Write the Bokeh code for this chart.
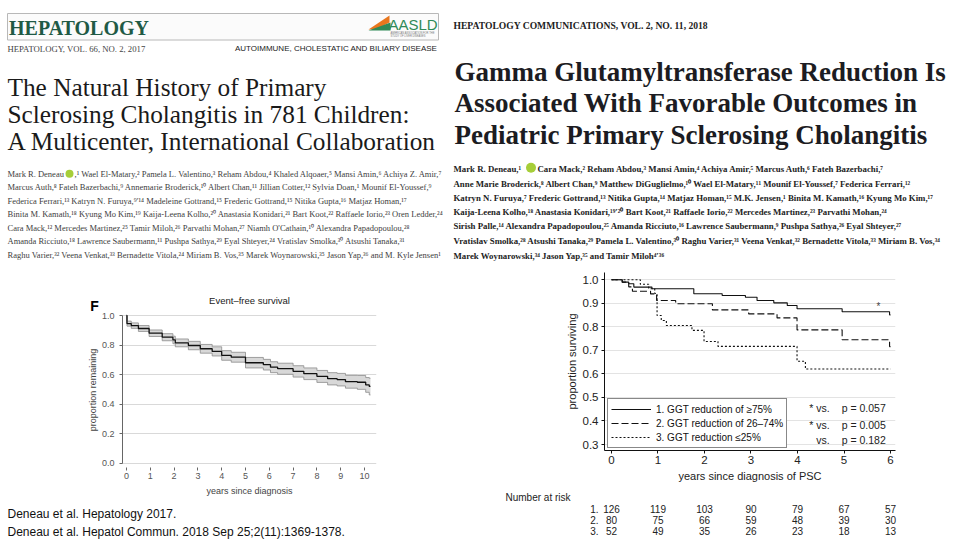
from bokeh.plotting import figure
from bokeh.models import Range1d, Legend, LegendItem, FixedTicker, NumeralTickFormatter
from bokeh.core.properties import value
from bokeh.embed import file_html
from bokeh.resources import INLINE

# ---------------- data: left panel (Hepatology 2017, event-free survival) ----------------
efs_years = [0.00, 0.02, 0.20, 0.50, 0.95, 1.50, 1.95, 2.05, 2.60, 3.10, 3.60, 4.00, 4.40,
             5.00, 5.75, 6.05, 6.35, 7.00, 7.45, 8.00, 8.45, 8.85, 9.20, 9.70, 10.05, 10.20, 10.25]
efs_surv = [1.000, 0.945, 0.932, 0.912, 0.880, 0.853, 0.835, 0.815, 0.797, 0.775, 0.757, 0.730, 0.718,
            0.680, 0.667, 0.650, 0.640, 0.622, 0.606, 0.588, 0.572, 0.566, 0.552, 0.548, 0.530, 0.520, 0.520]
efs_lower = [1.000, 0.928, 0.913, 0.892, 0.858, 0.829, 0.809, 0.788, 0.768, 0.745, 0.726, 0.697, 0.684,
             0.645, 0.631, 0.613, 0.602, 0.583, 0.566, 0.547, 0.530, 0.523, 0.508, 0.500, 0.480, 0.462, 0.462]
efs_upper = [1.000, 0.962, 0.950, 0.932, 0.902, 0.877, 0.860, 0.841, 0.825, 0.804, 0.788, 0.762, 0.751,
             0.716, 0.703, 0.687, 0.677, 0.660, 0.645, 0.628, 0.613, 0.608, 0.595, 0.594, 0.580, 0.575, 0.575]
efs_x_ticks = [0, 1, 2, 3, 4, 5, 6, 7, 8, 9, 10]
efs_y_ticks = [0.0, 0.2, 0.4, 0.6, 0.8, 1.0]

# ---------------- data: right panel (Hepatol Commun 2018, GGT reduction groups) ----------------
ggt_labels = ["1. GGT reduction of \u226575%", "2. GGT reduction of 26\u201374%", "3. GGT reduction \u226425%"]
ggt1_years = [0, 0.23, 0.37, 0.48, 0.87, 1.77, 2.38, 2.88, 3.13, 3.49, 3.78, 3.99, 4.96, 5.98, 6.00]
ggt1_surv = [1.0, 0.990, 0.983, 0.969, 0.962, 0.941, 0.933, 0.926, 0.912, 0.902, 0.891, 0.877, 0.864, 0.851, 0.851]
ggt2_years = [0, 0.23, 0.37, 0.45, 0.84, 0.97, 1.38, 2.17, 2.95, 3.56, 3.99, 4.96, 5.98, 6.00]
ggt2_surv = [1.0, 0.990, 0.970, 0.951, 0.940, 0.912, 0.898, 0.872, 0.855, 0.838, 0.787, 0.745, 0.716, 0.716]
ggt3_years = [0, 0.62, 0.80, 0.93, 0.98, 1.07, 1.18, 1.73, 1.99, 2.29, 3.99, 4.17, 6.00]
ggt3_surv = [1.0, 0.981, 0.962, 0.942, 0.848, 0.827, 0.806, 0.785, 0.738, 0.717, 0.654, 0.621, 0.621]
ggt_x_ticks = [0, 1, 2, 3, 4, 5, 6]
ggt_y_ticks = [0.3, 0.4, 0.5, 0.6, 0.7, 0.8, 0.9, 1.0]
pval_vs = ["* vs.", "* vs.", "vs."]
pval_text = ["p = 0.057", "p = 0.005", "p = 0.182"]
risk_title = "Number at risk"
risk_rows = ["1.", "2.", "3."]
risk_years = [0, 1, 2, 3, 4, 5, 6]
risk_1 = [126, 119, 103, 90, 79, 67, 57]
risk_2 = [80, 75, 66, 59, 48, 39, 30]
risk_3 = [52, 49, 35, 26, 23, 18, 13]

# ---------------- texts ----------------
left_journal = "HEPATOLOGY"
left_issue = "HEPATOLOGY, VOL. 66, NO. 2, 2017"
left_section = "AUTOIMMUNE, CHOLESTATIC AND BILIARY DISEASE"
left_title = ["The Natural History of Primary",
              "Sclerosing Cholangitis in 781 Children:",
              "A Multicenter, International Collaboration"]
left_first_author = "Mark R. Deneau"
left_authors = [
    ",\u00b9 Wael El-Matary,\u00b2 Pamela L. Valentino,\u00b3 Reham Abdou,\u2074 Khaled Alqoaer,\u2075 Mansi Amin,\u2076 Achiya Z. Amir,\u2077",
    "Marcus Auth,\u2078 Fateh Bazerbachi,\u2079 Annemarie Broderick,\u00b9\u2070 Albert Chan,\u00b9\u00b9 Jillian Cotter,\u00b9\u00b2 Sylvia Doan,\u00b9 Mounif El-Youssef,\u2079",
    "Federica Ferrari,\u00b9\u00b3 Katryn N. Furuya,\u2079\u02b9\u00b9\u2074 Madeleine Gottrand,\u00b9\u2075 Frederic Gottrand,\u00b9\u2075 Nitika Gupta,\u00b9\u2076 Matjaz Homan,\u00b9\u2077",
    "Binita M. Kamath,\u00b9\u2078 Kyung Mo Kim,\u00b9\u2079 Kaija-Leena Kolho,\u00b2\u2070 Anastasia Konidari,\u00b2\u00b9 Bart Koot,\u00b2\u00b2 Raffaele Iorio,\u00b2\u00b3 Oren Ledder,\u00b2\u2074",
    "Cara Mack,\u00b9\u00b2 Mercedes Martinez,\u00b2\u2075 Tamir Miloh,\u00b2\u2076 Parvathi Mohan,\u00b2\u2077 Niamh O'Cathain,\u00b9\u2070 Alexandra Papadopoulou,\u00b2\u2078",
    "Amanda Ricciuto,\u00b9\u2078 Lawrence Saubermann,\u00b9\u00b9 Pushpa Sathya,\u00b2\u2079 Eyal Shteyer,\u00b2\u2074 Vratislav Smolka,\u00b3\u2070 Atsushi Tanaka,\u00b3\u00b9",
    "Raghu Varier,\u00b3\u00b2 Veena Venkat,\u00b3\u00b3 Bernadette Vitola,\u00b2\u2074 Miriam B. Vos,\u00b3\u2075 Marek Woynarowski,\u00b3\u2075 Jason Yap,\u00b3\u2076 and M. Kyle Jensen\u00b9",
]
efs_title = "Event\u2013free survival"
efs_panel = "F"
right_issue = "HEPATOLOGY COMMUNICATIONS, VOL. 2, NO. 11, 2018"
right_title = ["Gamma Glutamyltransferase Reduction Is",
               "Associated With Favorable Outcomes in",
               "Pediatric Primary Sclerosing Cholangitis"]
right_first_author = "Mark R. Deneau,\u00b9"
right_authors = [
    "Cara Mack,\u00b2 Reham Abdou,\u00b3 Mansi Amin,\u2074 Achiya Amir,\u2075 Marcus Auth,\u2076 Fateh Bazerbachi,\u2077",
    "Anne Marie Broderick,\u2078 Albert Chan,\u2079 Matthew DiGuglielmo,\u00b9\u2070 Wael El-Matary,\u00b9\u00b9 Mounif El-Youssef,\u2077 Federica Ferrari,\u00b9\u00b2",
    "Katryn N. Furuya,\u2077 Frederic Gottrand,\u00b9\u00b3 Nitika Gupta,\u00b9\u2074 Matjaz Homan,\u00b9\u2075 M.K. Jensen,\u00b9 Binita M. Kamath,\u00b9\u2076 Kyung Mo Kim,\u00b9\u2077",
    "Kaija-Leena Kolho,\u00b9\u2078 Anastasia Konidari,\u00b9\u2079\u02b9\u00b2\u2070 Bart Koot,\u00b2\u00b9 Raffaele Iorio,\u00b2\u00b2 Mercedes Martinez,\u00b2\u00b3 Parvathi Mohan,\u00b2\u2074",
    "Sirish Palle,\u00b9\u2074 Alexandra Papadopoulou,\u00b2\u2075 Amanda Ricciuto,\u00b9\u2076 Lawrence Saubermann,\u2079 Pushpa Sathya,\u00b2\u2076 Eyal Shteyer,\u00b2\u2077",
    "Vratislav Smolka,\u00b2\u2078 Atsushi Tanaka,\u00b2\u2079 Pamela L. Valentino,\u00b3\u2070 Raghu Varier,\u00b3\u00b9 Veena Venkat,\u00b3\u00b2 Bernadette Vitola,\u00b3\u00b3 Miriam B. Vos,\u00b3\u2074",
    "Marek Woynarowski,\u00b3\u2074 Jason Yap,\u00b3\u2075 and Tamir Miloh\u2074\u02b9\u00b3\u2076",
]
citations = ["Deneau et al. Hepatology 2017.",
             "Deneau et al. Hepatol Commun. 2018 Sep 25;2(11):1369-1378."]

SERIF = "Liberation Serif"
SANS = "Liberation Sans"


def place(p, left, top):
    p.styles = {"position": "absolute", "left": f"{left}px", "top": f"{top}px"}
    return p


def canvas(left, top, w, h):
    # a text canvas whose coordinates are page pixels
    p = figure(width=w, height=h, x_range=Range1d(left, left + w), y_range=Range1d(top + h, top),
               output_backend="svg", toolbar_location=None, min_border=0,
               x_axis_type=None, y_axis_type=None)
    p.outline_line_color = None
    p.background_fill_color = "white"
    p.border_fill_color = "white"
    return place(p, left, top)


def put(p, x, y, s, size, font=SERIF, style="normal", color="#222222", align="left", baseline="middle"):
    xs = x if isinstance(x, list) else [x]
    ys = y if isinstance(y, list) else [y]
    ss = s if isinstance(s, list) else [s]
    p.text(x=xs, y=ys, text=ss, text_font=value(font), text_font_size=value(f"{size}px"),
           text_font_style=style, text_color=color, text_align=align, text_baseline=baseline)


# ======================= LEFT TEXT BLOCK (page 0..445 x 0..318) =======================
lt = canvas(0, 0, 445, 318)
lt.quad(left=[7], right=[438], top=[13], bottom=[39.5], fill_color="#fbfbfb", line_color="#b8b8b8", line_width=1)
put(lt, 8.5, 27, left_journal, 20, SERIF, "bold", "#1f5a45")
lt.patch([368, 389, 389, 375], [29, 15, 22, 29], fill_color="#e8761e", line_color=None)
lt.patch([368, 390, 390], [30, 22, 30], fill_color="#2f8a57", line_color=None)
put(lt, 388, 24, "AASLD", 15, SANS, "normal", "#2f8a57")
put(lt, 390, 33, "AMERICAN ASSOCIATION FOR THE", 2.6, SANS, "normal", "#777777")
put(lt, 390, 36, "STUDY OF LIVER DISEASES", 2.6, SANS, "normal", "#777777")
put(lt, 7, 48.3, left_issue, 8.7, SERIF, "normal", "#444444")
put(lt, 437, 48.3, left_section, 8.0, SANS, "normal", "#222222", align="right")
put(lt, [7, 7, 7], [86.7, 113.4, 140.7], left_title, 25.3, SERIF, "normal", "#1a1a1a")
auth_y = [173.3, 186.8, 200.3, 213.8, 227.3, 240.8, 254.3]
put(lt, 7, auth_y[0], left_first_author, 8.5, SERIF, "normal", "#404040")
lt.scatter([69], [auth_y[0]], size=8, fill_color="#a6ce39", line_color=None)
put(lt, 74, auth_y[0], left_authors[0], 8.5, SERIF, "normal", "#404040")
put(lt, [7] * 6, auth_y[1:], left_authors[1:], 8.5, SERIF, "normal", "#404040")
put(lt, 249, 300, efs_title, 9.5, SANS, "normal", "#222222", align="center")
put(lt, 94, 305, efs_panel, 14, SANS, "bold", "#000000", align="center")

# ======================= LEFT PLOT (page 60..400 x 312..500) =======================
LX0, LX1 = -0.168, 10.504
LY0, LY1 = -0.0291, 1.0203
pl = figure(width=340, height=188, x_range=Range1d(LX0, LX1), y_range=Range1d(LY0, LY1),
            output_backend="svg", toolbar_location=None,
            min_border_left=62, min_border_right=24, min_border_top=0, min_border_bottom=33)
place(pl, 60, 312)
pl.outline_line_color = None
pl.xgrid.visible = False
pl.ygrid.ticker = FixedTicker(ticks=efs_y_ticks)
pl.ygrid.grid_line_color = "#d9d9d9"
pl.varea_step(x=efs_years, y1=efs_lower, y2=efs_upper, step_mode="after", fill_color="#d8d8d8")
pl.step(efs_years, efs_lower, mode="after", line_color="#8c8c8c", line_width=0.8)
pl.step(efs_years, efs_upper, mode="after", line_color="#8c8c8c", line_width=0.8)
pl.step(efs_years, efs_surv, mode="after", line_color="#111111", line_width=1.3)
for ax in (pl.xaxis[0], pl.yaxis[0]):
    ax.major_label_text_font = SANS
    ax.major_label_text_font_size = "9px"
    ax.major_label_text_color = "#555555"
    ax.axis_label_text_font = SANS
    ax.axis_label_text_font_size = "9px"
    ax.axis_label_text_font_style = "normal"
    ax.axis_label_text_color = "#444444"
    ax.major_tick_in = 0
    ax.major_tick_out = 3
    ax.minor_tick_out = 0
    ax.minor_tick_in = 0
    ax.major_tick_line_color = "#666666"
pl.xaxis.ticker = FixedTicker(ticks=efs_x_ticks)
pl.xaxis.axis_line_color = None
pl.xaxis.major_label_standoff = 2
pl.xaxis.axis_label = "years since diagnosis"
pl.xaxis.axis_label_standoff = 4
pl.yaxis.ticker = FixedTicker(ticks=efs_y_ticks)
pl.yaxis.formatter = NumeralTickFormatter(format="0.0")
pl.yaxis.axis_line_color = "#666666"
pl.yaxis.bounds = (0, 1)
pl.yaxis.major_label_standoff = 5
pl.yaxis.axis_label = "proportion remaining"
pl.yaxis.axis_label_standoff = 1

# ======================= LEFT CITATIONS (page 0..445 x 500..540) =======================
lc = canvas(0, 500, 445, 40)
put(lc, [7, 7], [513, 531], citations, 12, SANS, "normal", "#111111")

# ======================= RIGHT TEXT BLOCK (page 445..960 x 0..270) =======================
rt = canvas(445, 0, 515, 270)
put(rt, 453, 25, right_issue, 9.6, SERIF, "bold", "#222222")
put(rt, [454, 454, 454], [71, 102.7, 134.3], right_title, 27, SERIF, "bold", "#1c1c22")
r_auth_y = [168.3, 183.3, 197.7, 211.7, 225.7, 240, 255]
put(rt, 453, r_auth_y[0], right_first_author, 8.8, SERIF, "bold", "#222222")
rt.scatter([530.5], [r_auth_y[0] - 1], size=10, fill_color="#a6ce39", line_color=None)
put(rt, 537, r_auth_y[0], right_authors[0], 8.8, SERIF, "bold", "#222222")
put(rt, [453] * 6, r_auth_y[1:], right_authors[1:], 8.8, SERIF, "bold", "#222222")

# ======================= RIGHT PLOT (page 445..960 x 270..487) =======================
RX0, RX1 = -0.1505, 6.1075
RY0, RY1 = 0.2745, 1.031
R_BL, R_BR = 159, 65
pr = figure(width=515, height=217, x_range=Range1d(RX0, RX1), y_range=Range1d(RY0, RY1),
            output_backend="svg", toolbar_location=None,
            min_border_left=R_BL, min_border_right=R_BR, min_border_top=2, min_border_bottom=37)
place(pr, 445, 270)
pr.outline_line_color = None
pr.xgrid.visible = False
pr.ygrid.ticker = FixedTicker(ticks=ggt_y_ticks)
pr.ygrid.grid_line_color = "#e3e3e3"
g1 = pr.step(ggt1_years, ggt1_surv, mode="after", line_color="#111111", line_width=1.1)
g2 = pr.step(ggt2_years, ggt2_surv, mode="after", line_color="#111111", line_width=1.1, line_dash="7 3")
g3 = pr.step(ggt3_years, ggt3_surv, mode="after", line_color="#111111", line_width=1.1, line_dash="2 2")
for ax in (pr.xaxis[0], pr.yaxis[0]):
    ax.major_label_text_font = SANS
    ax.major_label_text_font_size = "11.5px"
    ax.major_label_text_color = "#222222"
    ax.axis_label_text_font = SANS
    ax.axis_label_text_font_style = "normal"
    ax.axis_label_text_color = "#222222"
    ax.axis_line_color = "#111111"
    ax.major_tick_line_color = "#111111"
    ax.major_tick_in = 0
    ax.major_tick_out = 3
    ax.minor_tick_in = 0
    ax.minor_tick_out = 0
pr.xaxis.ticker = FixedTicker(ticks=ggt_x_ticks)
pr.xaxis.major_label_standoff = 2
pr.xaxis.axis_label = "years since diagnosis of PSC"
pr.xaxis.axis_label_text_font_size = "11px"
pr.xaxis.axis_label_standoff = 3
pr.yaxis.ticker = FixedTicker(ticks=ggt_y_ticks)
pr.yaxis.formatter = NumeralTickFormatter(format="0.0")
pr.yaxis.major_label_standoff = 3
pr.yaxis.axis_label = "proportion surviving"
pr.yaxis.axis_label_text_font_size = "11px"
pr.yaxis.axis_label_standoff = 2

leg = Legend(items=[LegendItem(label=ggt_labels[0], renderers=[g1]),
                    LegendItem(label=ggt_labels[1], renderers=[g2]),
                    LegendItem(label=ggt_labels[2], renderers=[g3])],
             location=(3, 2))
leg.border_line_color = "#111111"
leg.border_line_width = 1
leg.background_fill_color = "white"
leg.background_fill_alpha = 1.0
leg.padding = 3
leg.spacing = 0
leg.margin = 0
leg.glyph_width = 40
leg.glyph_height = 14
leg.label_height = 14
leg.label_standoff = 5
leg.label_text_font = SANS
leg.label_text_font_size = "10px"
leg.label_text_color = "#111111"
pr.add_layout(leg)

put(pr, [4.69] * 3, [0.457, 0.385, 0.321], pval_vs, 10.5, SANS, "normal", "#222222", align="right")
put(pr, [4.95] * 3, [0.457, 0.385, 0.321], pval_text, 10.5, SANS, "normal", "#222222")
put(pr, 5.74, 0.885, "*", 10, SANS, "normal", "#444444", align="center")

# ======================= NUMBER AT RISK (page 445..960 x 487..540) =======================
sc = (515 - R_BL - R_BR) / (RX1 - RX0)
rk = figure(width=515, height=53, x_range=Range1d(RX0 - R_BL / sc, RX1 + R_BR / sc), y_range=Range1d(540, 487),
            output_backend="svg", toolbar_location=None, min_border=0, x_axis_type=None, y_axis_type=None)
place(rk, 445, 487)
rk.outline_line_color = None
rk.background_fill_color = "white"
row_y = [508, 519, 530]
put(rk, -2.28, 497, risk_title, 10, SANS, "normal", "#222222")
put(rk, [-0.28] * 3, row_y, risk_rows, 10, SANS, "normal", "#222222", align="right")
for yy, vals in zip(row_y, (risk_1, risk_2, risk_3)):
    put(rk, risk_years, [yy] * len(risk_years), [str(v) for v in vals], 10, SANS, "normal", "#222222", align="center")

open("out.html", "w").write(file_html([lt, pl, lc, rt, pr, rk], INLINE))
